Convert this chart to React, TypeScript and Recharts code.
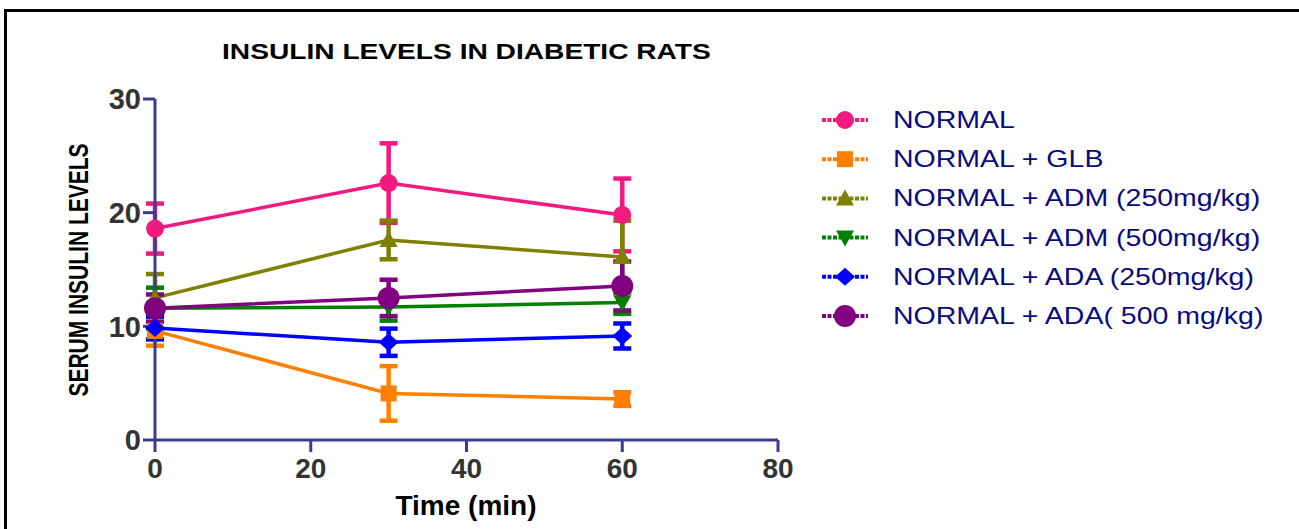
import { LineChart, Line, XAxis, YAxis, ErrorBar, Legend } from 'recharts';

const times = [0, 30, 60];

const SERIES_NAMES = [
  'NORMAL',
  'NORMAL + GLB',
  'NORMAL + ADM (250mg/kg)',
  'NORMAL + ADM (500mg/kg)',
  'NORMAL + ADA (250mg/kg)',
  'NORMAL + ADA( 500 mg/kg)',
];

const normal = [18.6, 22.6, 19.8];
const normalErr = [2.2, 3.5, 3.2];
const glb = [9.6, 4.1, 3.6];
const glbErr = [1.3, 2.4, 0.6];
const adm250 = [12.5, 17.6, 16.1];
const adm250Err = [2.1, 1.7, 3.2];
const adm500 = [11.6, 11.7, 12.1];
const adm500Err = [1.8, 1.2, 1.0];
const ada250 = [9.85, 8.6, 9.15];
const ada250Err = [1.0, 1.2, 1.1];
const ada500 = [11.6, 12.5, 13.55];
const ada500Err = [1.2, 1.6, 2.15];

const xTicks = [0, 20, 40, 60, 80];
const yTicks = [0, 10, 20, 30];

const COLORS = ['#f2197f', '#ff8000', '#808000', '#008000', '#0000ff', '#800080'];
const SHAPES = ['circle', 'square', 'triangle', 'triangleDown', 'diamond', 'bigCircle'];
const KEYS = ['normal', 'glb', 'adm250', 'adm500', 'ada250', 'ada500'];
const AXIS = '#3a3e8e';
const FONT = 'Liberation Sans, Arial, sans-serif';

const values = [normal, glb, adm250, adm500, ada250, ada500];
const errors = [normalErr, glbErr, adm250Err, adm500Err, ada250Err, ada500Err];

const data = times.map((t, i) => {
  const row: any = { time: t };
  KEYS.forEach((k, s) => {
    row[k] = values[s][i];
    row[k + 'Err'] = errors[s][i];
  });
  return row;
});

function Marker({ shape, cx, cy, color }: { shape: string; cx: number; cy: number; color: string }) {
  switch (shape) {
    case 'circle':
      return <circle cx={cx} cy={cy} r={9} fill={color} />;
    case 'bigCircle':
      return <circle cx={cx} cy={cy} r={11} fill={color} />;
    case 'square':
      return <rect x={cx - 8} y={cy - 8} width={16} height={16} fill={color} />;
    case 'triangle':
      return <polygon points={`${cx},${cy - 9} ${cx - 9},${cy + 7} ${cx + 9},${cy + 7}`} fill={color} />;
    case 'triangleDown':
      return <polygon points={`${cx},${cy + 9} ${cx - 9},${cy - 7} ${cx + 9},${cy - 7}`} fill={color} />;
    case 'diamond':
      return <polygon points={`${cx},${cy - 9} ${cx + 10},${cy} ${cx},${cy + 9} ${cx - 10},${cy}`} fill={color} />;
    default:
      return null;
  }
}

const renderLegend = () => (
  <svg width={480} height={250}>
    {SERIES_NAMES.map((name, i) => {
      const y = 25 + i * 39.2;
      return (
        <g key={name}>
          <line x1={12} x2={58} y1={y} y2={y} stroke={COLORS[i]} strokeWidth={4} strokeDasharray="4 1.5" />
          <Marker shape={SHAPES[i]} cx={35} cy={y} color={COLORS[i]} />
          <text transform={`translate(83, ${y + 8}) scale(1.24, 1)`} fontFamily={FONT} fontSize={23} fill="#0a0a80">
            {name}
          </text>
        </g>
      );
    })}
  </svg>
);

export default function App() {
  return (
    <div style={{ position: 'absolute', left: 0, top: 0, width: 1299, height: 529, overflow: 'hidden' }}>
      {/* frame: top and left edges only */}
      <div style={{ position: 'absolute', left: 4, top: 9, width: 1295, height: 3, background: '#000' }} />
      <div style={{ position: 'absolute', left: 4, top: 9, width: 3, height: 520, background: '#000' }} />
      <LineChart
        width={1290}
        height={529}
        data={data}
        margin={{ top: 99, right: 32, bottom: 29, left: 55 }}
        style={{ position: 'absolute', left: 0, top: 0 }}
      >
        <XAxis
          dataKey="time"
          type="number"
          domain={[0, 80]}
          ticks={xTicks}
          height={60}
          stroke={AXIS}
          strokeWidth={3}
          tickSize={12}
          tickMargin={6}
          tick={{ fill: '#333', fontSize: 28, fontWeight: 'bold', fontFamily: FONT }}
          tickLine={{ stroke: AXIS, strokeWidth: 3 }}
        />
        <YAxis
          type="number"
          domain={[0, 30]}
          ticks={yTicks}
          width={100}
          stroke={AXIS}
          strokeWidth={3}
          tickSize={12}
          tickMargin={2}
          tick={{ fill: '#333', fontSize: 29, fontWeight: 'bold', fontFamily: FONT }}
          tickLine={{ stroke: AXIS, strokeWidth: 3 }}
        />
        <Legend
          layout="vertical"
          align="right"
          verticalAlign="top"
          content={renderLegend}
          wrapperStyle={{ left: 810, top: 95, width: 480, height: 250 }}
        />
        {KEYS.map((k, i) => (
          <Line
            key={k}
            dataKey={k}
            name={SERIES_NAMES[i]}
            stroke={COLORS[i]}
            strokeWidth={3.5}
            isAnimationActive={false}
            dot={(p: any) => <Marker key={`${k}-${p.index}`} shape={SHAPES[i]} cx={p.cx} cy={p.cy} color={COLORS[i]} />}
            activeDot={false}
          >
            <ErrorBar dataKey={k + 'Err'} direction="y" width={9} strokeWidth={4.5} stroke={COLORS[i]} />
          </Line>
        ))}
        <text transform="translate(222, 59) scale(1.28, 1)" fontFamily={FONT} fontSize={22} fontWeight="bold" fill="#000">
          INSULIN LEVELS IN DIABETIC RATS
        </text>
        <text
          transform="translate(88, 270) scale(1.3, 1) rotate(-90)"
          textAnchor="middle"
          fontFamily={FONT}
          fontSize={21}
          fontWeight="bold"
          fill="#000"
        >
          SERUM INSULIN LEVELS
        </text>
        <text x={466} y={515} textAnchor="middle" fontFamily={FONT} fontSize={28} fontWeight="bold" fill="#000">
          Time (min)
        </text>
      </LineChart>
    </div>
  );
}
